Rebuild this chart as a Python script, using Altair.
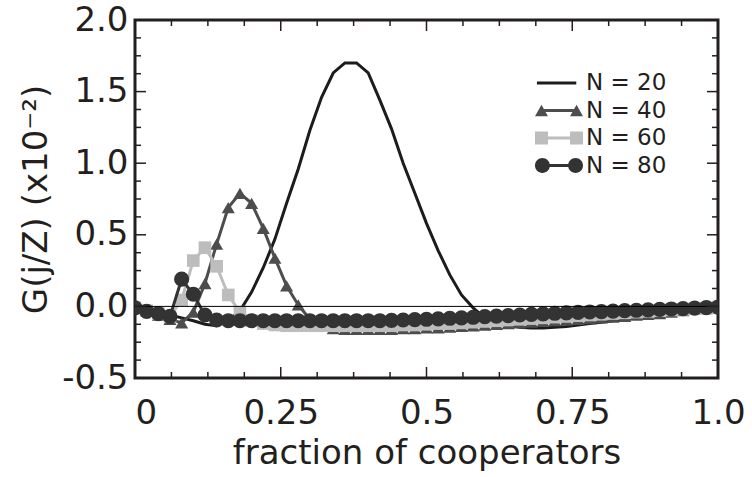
import altair as alt
import pandas as pd

# ---------------- data ----------------
Z = 50
fractions = [j / Z for j in range(Z + 1)]

g_n20 = [0.0, -0.02, -0.04, -0.06, -0.08, -0.10, -0.125, -0.135, -0.10, -0.03,
         0.10, 0.27, 0.47, 0.72, 0.96, 1.23, 1.46, 1.63, 1.70, 1.70,
         1.63, 1.44, 1.24, 1.00, 0.79, 0.58, 0.39, 0.22, 0.08, -0.01,
         -0.08, -0.11, -0.13, -0.145, -0.15, -0.15, -0.145, -0.14, -0.13, -0.12,
         -0.11, -0.10, -0.09, -0.08, -0.07, -0.06, -0.045, -0.035, -0.02, -0.01, 0.0]

g_n40 = [0.0, -0.03, -0.06, -0.09, -0.115, -0.04, 0.16, 0.435, 0.69, 0.79,
         0.72, 0.545, 0.337, 0.143, 0.01, -0.09, -0.14, -0.155, -0.16, -0.16,
         -0.16, -0.16, -0.16, -0.155, -0.155, -0.15, -0.15, -0.145, -0.14, -0.135,
         -0.13, -0.125, -0.12, -0.115, -0.11, -0.105, -0.10, -0.095, -0.09, -0.085,
         -0.08, -0.075, -0.07, -0.06, -0.055, -0.05, -0.04, -0.03, -0.02, -0.015, -0.01]

g_n60 = [-0.01, -0.03, -0.05, -0.07, 0.045, 0.32, 0.41, 0.28, 0.08, -0.04,
         -0.10, -0.12, -0.13, -0.135, -0.135, -0.135, -0.135, -0.135, -0.135, -0.135,
         -0.135, -0.135, -0.135, -0.13, -0.13, -0.125, -0.12, -0.12, -0.115, -0.11,
         -0.105, -0.10, -0.095, -0.09, -0.085, -0.08, -0.075, -0.07, -0.065, -0.06,
         -0.055, -0.05, -0.045, -0.04, -0.035, -0.03, -0.025, -0.02, -0.015, -0.01, -0.005]

g_n80 = [-0.01, -0.035, -0.05, -0.07, 0.19, 0.085, -0.06, -0.095, -0.10, -0.10,
         -0.10, -0.10, -0.10, -0.10, -0.10, -0.10, -0.10, -0.10, -0.10, -0.10,
         -0.10, -0.10, -0.098, -0.095, -0.092, -0.09, -0.087, -0.083, -0.08, -0.076,
         -0.072, -0.068, -0.064, -0.06, -0.056, -0.052, -0.048, -0.045, -0.042, -0.039,
         -0.036, -0.033, -0.03, -0.027, -0.024, -0.021, -0.018, -0.015, -0.012, -0.009, -0.005]

series_names = ["N = 20", "N = 40", "N = 60", "N = 80"]

x_major = [0.0, 0.25, 0.5, 0.75, 1.0]
x_major_labels = ["0", "0.25", "0.5", "0.75", "1.0"]
x_minor = [i / 16 for i in range(17) if i % 4]
y_major = [-0.5, 0.0, 0.5, 1.0, 1.5, 2.0]
y_major_labels = ["-0.5", "0.0", "0.5", "1.0", "1.5", "2.0"]
y_minor = [-0.5 + i * 0.125 for i in range(21) if i % 4]

# ---------------- style ----------------
FONT = "DejaVu Sans"
TEXT = "#231f20"
FRAME = "#231f20"
C20, C40, C60, C80 = "#1c1c1c", "#4d4d4d", "#bdbdbd", "#333333"
series_colors = [C20, C40, C60, C80]
W, H = 583, 358
MAJ, MIN = 11, 6

legend_paths = [
    "M-0.92,-0.065H0.72V0.065H-0.92Z",
    "M-1,0.235L-0.73,-0.235L-0.46,0.235Z M0.46,0.235L0.73,-0.235L1,0.235Z M-0.62,-0.06H0.62V0.06H-0.62Z",
    "M-1,-0.27H-0.46V0.27H-1Z M0.46,-0.27H1V0.27H0.46Z M-0.5,-0.06H0.5V0.06H-0.5Z",
    "M-1,0A0.31,0.31 0 1,1 -0.38,0A0.31,0.31 0 1,1 -1,0Z M0.38,0A0.31,0.31 0 1,1 1,0A0.31,0.31 0 1,1 0.38,0Z M-0.62,-0.06H0.62V0.06H-0.62Z",
]


def label_expr(values, labels):
    expr = "datum.label"
    for v, l in reversed(list(zip(values, labels))):
        expr = f"datum.value == {v} ? '{l}' : ({expr})"
    return expr


X_AXIS = alt.Axis(
    values=x_major, labelExpr=label_expr(x_major, x_major_labels),
    title="fraction of cooperators", ticks=False, domain=False, grid=False,
    labelFont=FONT, titleFont=FONT, labelFontSize=34, titleFontSize=34,
    labelColor=TEXT, titleColor=TEXT, titleFontWeight="normal",
    labelPadding=18, titlePadding=6, labelFlush=False, labelOverlap=False,
    labelAlign={"condition": {"test": "datum.value == 0", "value": "left"}, "value": "center"},
)
Y_AXIS = alt.Axis(
    values=y_major, labelExpr=label_expr(y_major, y_major_labels),
    title="G(j/Z) (x10⁻²)", ticks=False, domain=False, grid=False,
    labelFont=FONT, titleFont=FONT, labelFontSize=34, titleFontSize=34,
    labelColor=TEXT, titleColor=TEXT, titleFontWeight="normal",
    labelPadding=7, titlePadding=8, labelOverlap=False,
)

X_ENC = alt.X("x:Q", scale=alt.Scale(domain=[0, 1], nice=False, zero=False), axis=X_AXIS)
Y_ENC = alt.Y("g:Q", scale=alt.Scale(domain=[-0.5, 2.0], nice=False, zero=False), axis=Y_AXIS)


def sdf(vals):
    return pd.DataFrame({"x": fractions, "g": vals})


layers = []
# N = 20 : plain line
layers.append(alt.Chart(sdf(g_n20)).mark_line(color=C20, strokeWidth=3, clip=True).encode(x=X_ENC, y=Y_ENC))
# N = 40 : triangles
layers.append(alt.Chart(sdf(g_n40)).mark_line(color=C40, strokeWidth=3, clip=True).encode(x=X_ENC, y=Y_ENC))
layers.append(alt.Chart(sdf(g_n40)).mark_point(shape="triangle-up", filled=True, size=170, color=C40,
                                                opacity=1, clip=True).encode(x=X_ENC, y=Y_ENC))
# N = 60 : squares
layers.append(alt.Chart(sdf(g_n60)).mark_line(color=C60, strokeWidth=3, clip=True).encode(x=X_ENC, y=Y_ENC))
layers.append(alt.Chart(sdf(g_n60)).mark_point(shape="square", filled=True, size=160, color=C60,
                                                opacity=1, clip=True).encode(x=X_ENC, y=Y_ENC))
# N = 80 : circles
layers.append(alt.Chart(sdf(g_n80)).mark_line(color=C80, strokeWidth=3, clip=True).encode(x=X_ENC, y=Y_ENC))
layers.append(alt.Chart(sdf(g_n80)).mark_point(shape="circle", filled=True, size=230, color=C80,
                                                opacity=1, clip=True).encode(x=X_ENC, y=Y_ENC))

# zero line
layers.append(alt.Chart(pd.DataFrame({"g": [0.0]})).mark_rule(color="#000000", strokeWidth=1).encode(y=Y_ENC))

# inward ticks on all four sides
def xticks(vals, length):
    d = pd.DataFrame({"x": vals})
    bottom = alt.Chart(d).mark_rule(color=FRAME, strokeWidth=1.5).encode(
        x=X_ENC, y=alt.value(H), y2=alt.value(H - length))
    top = alt.Chart(d).mark_rule(color=FRAME, strokeWidth=1.5).encode(
        x=X_ENC, y=alt.value(0), y2=alt.value(length))
    return [bottom, top]


def yticks(vals, length):
    d = pd.DataFrame({"g": vals})
    left = alt.Chart(d).mark_rule(color=FRAME, strokeWidth=1.5).encode(
        y=Y_ENC, x=alt.value(0), x2=alt.value(length))
    right = alt.Chart(d).mark_rule(color=FRAME, strokeWidth=1.5).encode(
        y=Y_ENC, x=alt.value(W), x2=alt.value(W - length))
    return [left, right]


layers += xticks(x_major, MAJ) + xticks(x_minor, MIN) + yticks(y_major, MAJ) + yticks(y_minor, MIN)

# legend (custom symbols, no drawn data)
LEG = alt.Legend(
    title=None, orient="none", legendX=400, legendY=51, padding=0,
    symbolSize=2304, symbolStrokeWidth=0, clipHeight=24, rowPadding=3.5,
    labelFont=FONT, labelFontSize=23, labelColor=TEXT, labelOffset=3,
)
legend_layer = alt.Chart(pd.DataFrame({"series": series_names})).mark_point(
    filled=True, opacity=1).encode(
    color=alt.Color("series:N", scale=alt.Scale(domain=series_names, range=series_colors), legend=LEG),
    shape=alt.Shape("series:N", scale=alt.Scale(domain=series_names, range=legend_paths), legend=LEG),
).transform_filter("false")
layers.append(legend_layer)

chart = alt.layer(*layers).properties(
    width=W, height=H,
    autosize=alt.AutoSizeParams(type="none"),
    padding={"left": 135, "top": 20, "right": 34, "bottom": 99},
    background="white",
).configure_view(stroke=FRAME, strokeWidth=3)

chart.save("out.html", embed_options={"renderer": "svg", "actions": False})
